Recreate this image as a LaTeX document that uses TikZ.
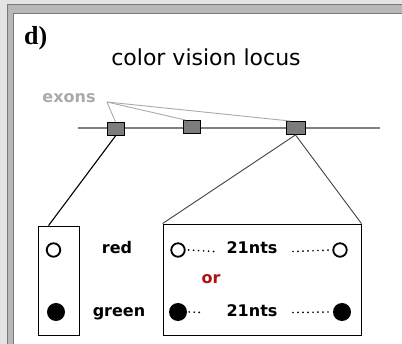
\documentclass[tikz,border=0pt]{standalone}
\usepackage{fontspec}
\setmainfont{DejaVu Sans}
\newfontfamily\dfont{Liberation Serif}
\definecolor{bglight}{HTML}{E4E4E4}
\definecolor{bgmid}{HTML}{B8B8B8}
\definecolor{bgdark}{HTML}{7A7A7A}
\definecolor{exonfill}{HTML}{7C7C7C}
\definecolor{exongray}{HTML}{AAAAAA}
\definecolor{linegray}{HTML}{444444}
\definecolor{ordred}{HTML}{B01010}
\tikzset{
  exon/.style={draw=black, fill=exonfill, line width=0.9pt, minimum width=17pt, minimum height=13pt, inner sep=0pt},
  lbl/.style={font=\bfseries\fontsize{16}{16}\selectfont, inner sep=0pt},
  opendot/.style={circle, draw=black, line width=1.8pt, minimum size=13.5pt, inner sep=0pt},
  fulldot/.style={circle, fill=black, minimum size=18pt, inner sep=0pt},
  panel/.style={draw=black, line width=0.9pt, inner sep=0pt},
  dots/.style={line width=1.9pt, line cap=round, dash pattern=on 0pt off 5pt},
}
\begin{document}
\begin{tikzpicture}[x=1pt,y=-1pt]
\useasboundingbox (0,0) rectangle (402,344);
\fill[bglight] (0,0) rectangle (402,344);
\fill[bgmid] (7,4) rectangle (402,344);
\fill[white] (14,14) rectangle (402,344);
\draw[bgdark, line width=1.2pt] (7.6,344) -- (7.6,4.6) -- (402,4.6);
\draw[bgdark, line width=1.2pt] (13.6,344) -- (13.6,13.6) -- (402,13.6);

\node[anchor=base west, inner sep=0pt, font=\dfont\bfseries\fontsize{26}{26}\selectfont] (d) at (24,45) {d)};
\node[inner sep=0pt, anchor=base, font=\fontsize{22}{22}\selectfont] (title) at (206,66) {color vision locus};
\node[inner sep=0pt, anchor=base, text=exongray, font=\bfseries\fontsize{16}{16}\selectfont] (exons) at (69,103) {exons};
\coordinate (ex0) at (107,102);

\draw[gray, line width=2pt] (78,128) coordinate (gl) -- (380,128) coordinate (gr);
\node[exon] (ex1) at (115.5,129) {};
\node[exon] (ex2) at (191.5,127) {};
\node[exon, minimum width=19pt] (ex3) at (295.5,128) {};

\draw[exongray, line width=0.9pt] (ex0) -- (ex1.north);
\draw[exongray, line width=0.9pt] (ex0) -- ([xshift=3pt]ex2.north west);
\draw[exongray, line width=0.9pt] (ex0) -- ([xshift=-5pt]ex3.north);

\node[panel, minimum width=41pt, minimum height=109pt] (small) at (58.5,280.5) {};
\node[panel, minimum width=198pt, minimum height=111pt] (big) at (262,279.5) {};

\draw[black, line width=1.1pt] (ex1.south) -- ([xshift=11pt]small.north west);
\draw[linegray, line width=0.9pt] (ex3.south) -- (big.north west);
\draw[linegray, line width=0.9pt] (ex3.south) -- (big.north east);

\node[opendot] (s1) at (53.5,250) {};
\node[fulldot] (s2) at (56,312) {};
\node[lbl, anchor=base] (red) at (117,254) {red};
\node[lbl, anchor=base] (green) at (119,317) {green};

\node[opendot] (a1) at (178,250) {};
\node[lbl, anchor=base] (n1) at (252,254) {21nts};
\node[opendot] (a2) at (340,250) {};
\draw[dots] ([xshift=3pt]a1.east) -- (214,251.5);
\draw[dots] (293,251.5) -- ([xshift=-1pt]a2.west);

\node[lbl, anchor=base, text=ordred, font=\bfseries\fontsize{16}{16}\selectfont] (or) at (211,284) {or};

\node[fulldot] (b1) at (178,312) {};
\node[lbl, anchor=base] (n2) at (252,317) {21nts};
\node[fulldot] (b2) at (342,312) {};
\draw[dots] ([xshift=2pt]b1.east) -- (202,312.5);
\draw[dots] (293,312.5) -- ([xshift=-1pt]b2.west);
\end{tikzpicture}
\end{document}
